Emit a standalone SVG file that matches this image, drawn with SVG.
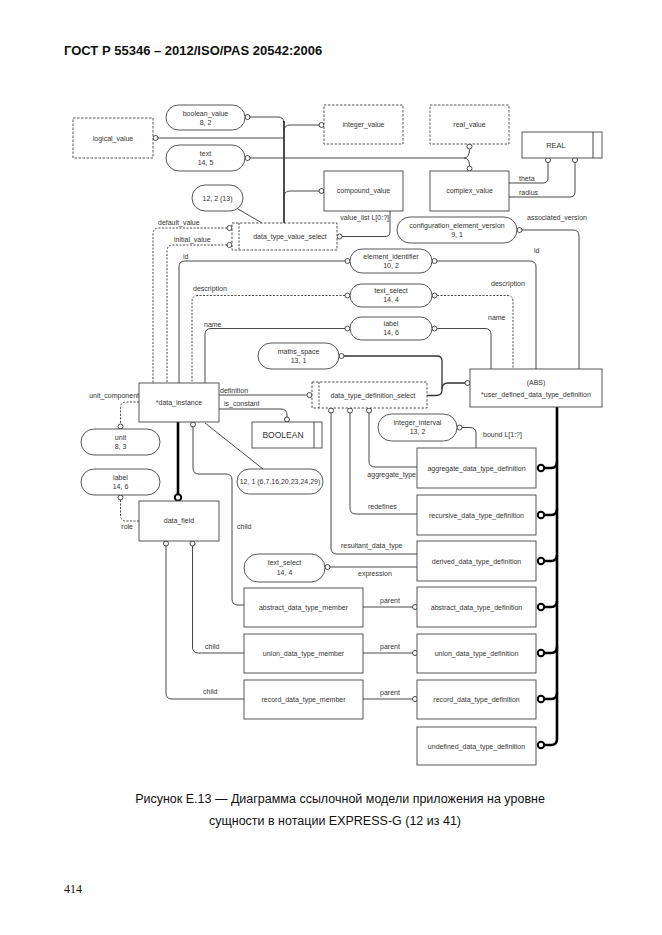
<svg xmlns="http://www.w3.org/2000/svg" width="662" height="935" viewBox="0 0 662 935">
<style>
.b{fill:#fff;stroke:#444;stroke-width:0.9}
.d{stroke-dasharray:2.5 1.5}
.t{font-family:"Liberation Sans",Arial,sans-serif;font-size:7px;fill:#333;text-anchor:middle}
.s{font-family:"Liberation Sans",Arial,sans-serif;font-size:7px;fill:#333}
.e{text-anchor:end}
.l{fill:none;stroke:#333;stroke-width:0.9}
.ld{fill:none;stroke:#333;stroke-width:0.9;stroke-dasharray:2 1.5}
.c{fill:#fff;stroke:#333;stroke-width:0.9}
.th{fill:none;stroke:#000;stroke-width:2.6}
.tc{fill:#fff;stroke:#000;stroke-width:2}
</style>
<rect width="662" height="935" fill="#fff"/>
<text x="64" y="55" style="font-family:'Liberation Sans',Arial,sans-serif;font-size:13px;font-weight:bold;fill:#111">ГОСТ Р 55346 – 2012/ISO/PAS 20542:2006</text>

<g id="connectors">
<path class="l" d="M158,138 H284"/>
<path class="l" d="M250,117 H278 Q284,117 284,123"/>
<path class="l" style="stroke:#111;stroke-width:1.5" d="M284,121 V223"/>
<path class="l" d="M284,131 Q284,125 290,125 H319"/>
<path class="l" d="M250,158 H464"/>
<path class="l" d="M469.5,149 Q469.5,158 464,158 Q469.5,158 469.5,166"/>
<path class="l" d="M284,197 Q284,191 290,191 H319"/>
<path class="l" d="M238,209 L262,223"/>
<path class="l" d="M342,236.5 H385 Q390,236.5 390,231.5 V211"/>
<path class="l" d="M509,183 H543 Q548,183 548,178 V162.5"/>
<path class="l" d="M509,197 H570 Q575,197 575,192 V162.5"/>
<path class="ld" d="M227,228 H159 Q153,228 153,234 V383"/>
<path class="ld" d="M227,245 H173 Q167,245 167,251 V383"/>
<path class="l" d="M522,230 H573 Q579,230 579,236 V369"/>
<path class="l" d="M437,261 H530 Q536,261 536,267 V369"/>
<path class="l" d="M345,261 H185 Q179,261 179,267 V383"/>
<path class="ld" d="M437,295.5 H507 Q513,295.5 513,301.5 V369"/>
<path class="ld" d="M345,295.5 H198 Q192,295.5 192,301.5 V383"/>
<path class="l" d="M437,328.5 H485 Q491,328.5 491,334.5 V369"/>
<path class="l" d="M345,328.5 H211 Q205,328.5 205,334.5 V383"/>
<path class="l" style="stroke-width:1.3" d="M344,356 H437 Q442,356 442,361 V390 Q442,395.5 436,395.5 H427"/>
<path class="l" style="stroke-width:1.3" d="M442,389 Q442,383 448,383 H465"/>
<path class="l" d="M219,395 H306.5"/>
<path class="l" d="M219,409 H281 Q287,409 287,415 V419.5"/>
<path class="ld" d="M139,402 H126 Q120.5,402 120.5,408 V424"/>
<path class="ld" d="M120.5,500 V515 Q120.5,521 126.5,521 H139"/>
<path class="th" d="M178,422 V495"/>
<path class="l" d="M193,427 V468 Q193,474 199,474 H226 Q232,474 232,480 V599 Q232,605 238,605 H244"/>
<path class="l" d="M205,423 L263,469"/>
<path class="l" d="M166,546 V693 Q166,699 172,699 H244"/>
<path class="l" d="M192.5,546 V647 Q192.5,653 198.5,653 H244"/>
<path class="l" d="M369,413 V461 Q369,467 375,467 H417"/>
<path class="l" d="M350,413 V508 Q350,514 356,514 H417"/>
<path class="l" d="M331,413 V548 Q331,554 337,554 H417"/>
<path class="l" d="M462,427.5 H470 Q476,427.5 476,433.5 V448"/>
<path class="l" d="M330,567 H417"/>
<path class="l" d="M363,607 H412.5"/>
<path class="l" d="M363,653 H412.5"/>
<path class="l" d="M363,699 H412.5"/>
<path class="th" d="M557,407 V739 Q557,745 551,745 H545"/>
<path class="th" d="M545,468 H551 Q557,468 557,462"/>
<path class="th" d="M545,515 H551 Q557,515 557,509"/>
<path class="th" d="M545,561 H551 Q557,561 557,555"/>
<path class="th" d="M545,607 H551 Q557,607 557,601"/>
<path class="th" d="M545,653 H551 Q557,653 557,647"/>
<path class="th" d="M545,699 H551 Q557,699 557,693"/>
<g>
<circle class="c" cx="155.5" cy="138" r="2.5"/>
<circle class="c" cx="247.5" cy="117" r="2.5"/>
<circle class="c" cx="321.5" cy="125" r="2.5"/>
<circle class="c" cx="247.5" cy="158" r="2.5"/>
<circle class="c" cx="469.5" cy="146.5" r="2.5"/>
<circle class="c" cx="469.5" cy="168.5" r="2.5"/>
<circle class="c" cx="321.5" cy="191" r="2.5"/>
<circle class="c" cx="339.5" cy="236.5" r="2.5"/>
<circle class="c" cx="548" cy="160" r="2.5"/>
<circle class="c" cx="575" cy="160" r="2.5"/>
<circle class="c" cx="229.5" cy="228" r="2.5"/>
<circle class="c" cx="229.5" cy="245" r="2.5"/>
<circle class="c" cx="519.5" cy="230" r="2.5"/>
<circle class="c" cx="434.5" cy="261" r="2.5"/>
<circle class="c" cx="347.5" cy="261" r="2.5"/>
<circle class="c" cx="434.5" cy="295.5" r="2.5"/>
<circle class="c" cx="347.5" cy="295.5" r="2.5"/>
<circle class="c" cx="434.5" cy="328.5" r="2.5"/>
<circle class="c" cx="347.5" cy="328.5" r="2.5"/>
<circle class="c" cx="341.5" cy="356" r="2.5"/>
<circle class="c" cx="467.5" cy="383" r="2.5"/>
<circle class="c" cx="309.5" cy="395" r="2.5"/>
<circle class="c" cx="287" cy="419.5" r="2.5"/>
<circle class="c" cx="120.5" cy="426.5" r="2.5"/>
<circle class="c" cx="120.5" cy="497.5" r="2.5"/>
<circle class="tc" cx="178" cy="497.5" r="3.2"/>
<circle class="c" cx="193" cy="424.5" r="2.5"/>
<circle class="c" cx="166" cy="543.5" r="2.5"/>
<circle class="c" cx="192.5" cy="543.5" r="2.5"/>
<circle class="c" cx="369" cy="410.5" r="2.5"/>
<circle class="c" cx="350" cy="410.5" r="2.5"/>
<circle class="c" cx="331" cy="410.5" r="2.5"/>
<circle class="c" cx="459.5" cy="427.5" r="2.5"/>
<circle class="c" cx="327.5" cy="567" r="2.5"/>
<circle class="c" cx="415" cy="607" r="2.5"/>
<circle class="c" cx="415" cy="653" r="2.5"/>
<circle class="c" cx="415" cy="699" r="2.5"/>
<circle class="tc" cx="541" cy="468" r="3.2"/>
<circle class="tc" cx="541" cy="515" r="3.2"/>
<circle class="tc" cx="541" cy="561" r="3.2"/>
<circle class="tc" cx="541" cy="607" r="3.2"/>
<circle class="tc" cx="541" cy="653" r="3.2"/>
<circle class="tc" cx="541" cy="699" r="3.2"/>
<circle class="tc" cx="541" cy="745" r="3.2"/>
</g>
<g class="s">
<text x="389" y="220" class="s e">value_list L[0:?]</text>
<text x="519" y="180.5" class="s">theta</text>
<text x="519" y="194.5" class="s">radius</text>
<text x="158" y="225" class="s">default_value</text>
<text x="174" y="242" class="s">initial_value</text>
<text x="527" y="220" class="s">associated_version</text>
<text x="534" y="253" class="s">id</text>
<text x="183" y="259" class="s">id</text>
<text x="491" y="286" class="s">description</text>
<text x="193" y="291" class="s">description</text>
<text x="488" y="320" class="s">name</text>
<text x="204" y="327" class="s">name</text>
<text x="220" y="392.5" class="s">definition</text>
<text x="224" y="405.5" class="s">is_constant</text>
<text x="139" y="398" class="s e">unit_component</text>
<text x="133" y="529" class="s e">role</text>
<text x="237" y="529" class="s">child</text>
<text x="205" y="649" class="s">child</text>
<text x="203" y="694" class="s">child</text>
<text x="416" y="477" class="s e">aggregate_type</text>
<text x="368" y="509" class="s">redefines</text>
<text x="341" y="548" class="s">resultant_data_type</text>
<text x="483" y="437" class="s">bound L[1:?]</text>
<text x="358" y="576" class="s">expression</text>
<text x="390" y="603" class="t">parent</text>
<text x="390" y="649" class="t">parent</text>
<text x="390" y="695" class="t">parent</text>
</g>
</g>

<g id="logical_value"><rect class="b d" x="73" y="118" width="80" height="40"/><text class="t" x="113" y="140.5">logical_value</text></g>
<g id="boolean_value"><rect class="b" x="166" y="105" width="79" height="25" rx="12.5"/><text class="t" x="205.5" y="115.5">boolean_value</text><text class="t" x="205.5" y="125">8, 2</text></g>
<g id="text_14_5"><rect class="b" x="166" y="145" width="79" height="26" rx="13"/><text class="t" x="205.5" y="155.5">text</text><text class="t" x="205.5" y="165">14, 5</text></g>
<g id="ref_12_2"><rect class="b" x="192" y="185" width="51" height="26" rx="13"/><text class="t" x="217.5" y="200.5">12, 2 (13)</text></g>
<g id="data_type_value_select"><rect class="b d" x="232" y="223" width="105" height="27"/><line class="ld" x1="239" y1="223" x2="239" y2="250"/><text class="t" x="290" y="239">data_type_value_select</text></g>
<g id="integer_value"><rect class="b d" x="324" y="105" width="79" height="39"/><text class="t" x="363.5" y="127">integer_value</text></g>
<g id="real_value"><rect class="b d" x="430" y="105" width="79" height="39"/><text class="t" x="469.5" y="127">real_value</text></g>
<g id="REAL"><rect class="b" x="522" y="132" width="80" height="26"/><line class="l" x1="593" y1="132" x2="593" y2="158"/><text class="t" x="556" y="147.5" style="font-size:7.5px">REAL</text></g>
<g id="compound_value"><rect class="b" x="324" y="171" width="79" height="40"/><text class="t" x="363.5" y="193">compound_value</text></g>
<g id="complex_value"><rect class="b" x="430" y="171" width="79" height="40"/><text class="t" x="469.5" y="193">complex_value</text></g>
<g id="configuration_element_version"><rect class="b" x="397" y="217" width="120" height="26" rx="13"/><text class="t" x="457" y="227.5">configuration_element_version</text><text class="t" x="457" y="237">9, 1</text></g>
<g id="element_identifier"><rect class="b" x="350" y="249" width="82" height="24" rx="12"/><text class="t" x="391" y="259">element_identifier</text><text class="t" x="391" y="268">10, 2</text></g>
<g id="text_select_upper"><rect class="b" x="350" y="284" width="82" height="23" rx="11.5"/><text class="t" x="391" y="293">text_select</text><text class="t" x="391" y="302">14, 4</text></g>
<g id="label_upper"><rect class="b" x="350" y="317" width="82" height="23" rx="11.5"/><text class="t" x="391" y="326">label</text><text class="t" x="391" y="335">14, 6</text></g>
<g id="maths_space"><rect class="b" x="258" y="343" width="81" height="26" rx="13"/><text class="t" x="298.5" y="353.5">maths_space</text><text class="t" x="298.5" y="363">13, 1</text></g>
<g id="user_defined_data_type_definition"><rect class="b" x="470" y="369" width="132" height="38"/><text class="t" x="536" y="385">(ABS)</text><text class="t" x="536" y="397">*user_defined_data_type_definition</text></g>
<g id="data_type_definition_select"><rect class="b d" x="312" y="382" width="115" height="26"/><line class="ld" x1="319" y1="382" x2="319" y2="408"/><text class="t" x="373" y="397.5">data_type_definition_select</text></g>
<g id="data_instance"><rect class="b" x="139" y="383" width="80" height="39"/><text class="t" x="179" y="404.5">*data_instance</text></g>
<g id="BOOLEAN"><rect class="b" x="252" y="422" width="70" height="26"/><line class="l" x1="314" y1="422" x2="314" y2="448"/><text class="t" x="283" y="438" style="font-size:8.5px">BOOLEAN</text></g>
<g id="integer_interval"><rect class="b" x="378" y="414" width="79" height="27" rx="13.5"/><text class="t" x="417.5" y="424.5">integer_interval</text><text class="t" x="417.5" y="434">13, 2</text></g>
<g id="unit"><rect class="b" x="81" y="429" width="79" height="26" rx="13"/><text class="t" x="120.5" y="439.5">unit</text><text class="t" x="120.5" y="449">8, 3</text></g>
<g id="label_lower"><rect class="b" x="81" y="469" width="79" height="26" rx="13"/><text class="t" x="120.5" y="479.5">label</text><text class="t" x="120.5" y="489">14, 6</text></g>
<g id="ref_12_1"><rect class="b" x="237" y="469" width="86" height="25" rx="12.5"/><text class="t" x="280" y="484">12, 1 (6,7,16,20,23,24,29)</text></g>
<g id="data_field"><rect class="b" x="139" y="501" width="80" height="40"/><text class="t" x="179" y="523">data_field</text></g>
<g id="aggregate_data_type_definition"><rect class="b" x="417" y="448" width="119" height="40"/><text class="t" x="476.5" y="470.5">aggregate_data_type_definition</text></g>
<g id="recursive_data_type_definition"><rect class="b" x="417" y="495" width="119" height="40"/><text class="t" x="476.5" y="517.5">recursive_data_type_definition</text></g>
<g id="derived_data_type_definition"><rect class="b" x="417" y="541" width="119" height="40"/><text class="t" x="476.5" y="563.5">derived_data_type_definition</text></g>
<g id="text_select_lower"><rect class="b" x="244" y="554" width="81" height="28" rx="14"/><text class="t" x="284.5" y="565">text_select</text><text class="t" x="284.5" y="574.5">14, 4</text></g>
<g id="abstract_data_type_member"><rect class="b" x="244" y="588" width="119" height="39"/><text class="t" x="303.5" y="610">abstract_data_type_member</text></g>
<g id="abstract_data_type_definition"><rect class="b" x="417" y="587" width="119" height="40"/><text class="t" x="476.5" y="609.5">abstract_data_type_definition</text></g>
<g id="union_data_type_member"><rect class="b" x="244" y="634" width="119" height="39"/><text class="t" x="303.5" y="656">union_data_type_member</text></g>
<g id="union_data_type_definition"><rect class="b" x="417" y="634" width="119" height="39"/><text class="t" x="476.5" y="656">union_data_type_definition</text></g>
<g id="record_data_type_member"><rect class="b" x="244" y="680" width="119" height="39"/><text class="t" x="303.5" y="702">record_data_type_member</text></g>
<g id="record_data_type_definition"><rect class="b" x="417" y="680" width="119" height="39"/><text class="t" x="476.5" y="702">record_data_type_definition</text></g>
<g id="undefined_data_type_definition"><rect class="b" x="417" y="727" width="119" height="38"/><text class="t" x="476.5" y="748.5">undefined_data_type_definition</text></g>

<text x="340" y="803" style="font-family:'Liberation Sans',Arial,sans-serif;font-size:12.5px;fill:#111;text-anchor:middle">Рисунок Е.13 — Диаграмма ссылочной модели приложения на уровне</text>
<text x="335" y="825" style="font-family:'Liberation Sans',Arial,sans-serif;font-size:12.5px;fill:#111;text-anchor:middle">сущности в нотации EXPRESS-G (12 из 41)</text>
<text x="64" y="893" style="font-family:'Liberation Serif','Times New Roman',serif;font-size:12px;fill:#111">414</text>
</svg>
